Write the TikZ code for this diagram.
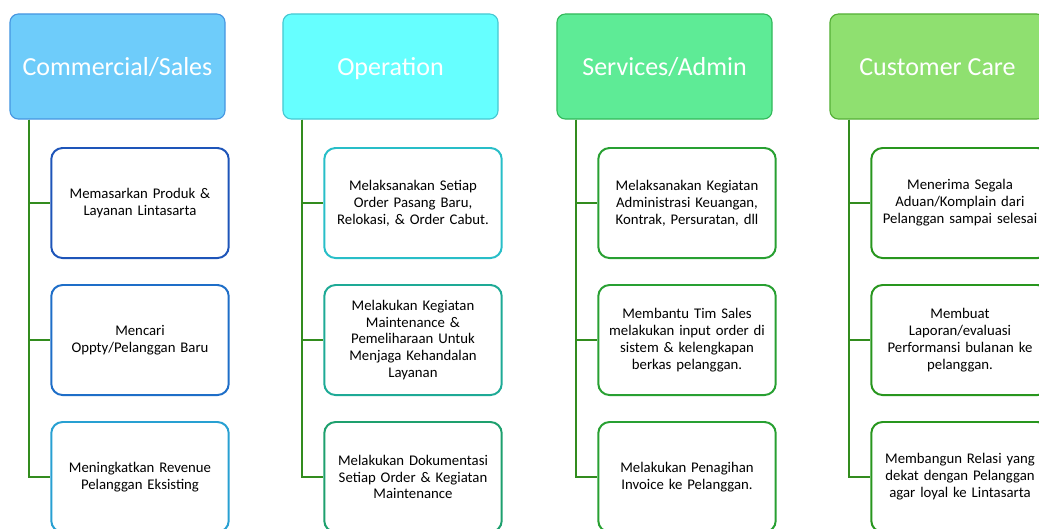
\documentclass[tikz,border=0pt]{standalone}
\usepackage{fontspec}
\setmainfont{Carlito}
\usepackage{tikz}
\usetikzlibrary{positioning}
\usetikzlibrary{calc}
\definecolor{salesFill}{RGB}{110,204,250}
\definecolor{salesLine}{RGB}{70,150,225}
\definecolor{opFill}{RGB}{102,255,255}
\definecolor{opLine}{RGB}{70,200,210}
\definecolor{admFill}{RGB}{94,235,150}
\definecolor{admLine}{RGB}{50,185,90}
\definecolor{careFill}{RGB}{143,224,112}
\definecolor{careLine}{RGB}{85,175,55}
\definecolor{salesA}{RGB}{30,85,185}
\definecolor{salesB}{RGB}{30,110,200}
\definecolor{salesC}{RGB}{40,160,210}
\definecolor{opA}{RGB}{40,190,200}
\definecolor{opB}{RGB}{30,170,150}
\definecolor{opC}{RGB}{30,160,110}
\definecolor{admBox}{RGB}{40,160,50}
\definecolor{careBox}{RGB}{40,150,30}
\definecolor{linkGreen}{RGB}{50,140,30}
\tikzset{myhead/.style={draw, line width=0.8pt, rounded corners=6pt, minimum width=5.375cm, minimum height=2.625cm, text=white, text height=1.45em, text depth=0.2em, font=\fontsize{18.5}{22}\selectfont}}
\tikzset{mytask/.style={draw, line width=1.4pt, fill=white, rounded corners=8pt, minimum width=4.4cm, minimum height=2.75cm, align=center, text width=4.2cm, font=\fontsize{10.5}{12}\selectfont}}
\tikzset{mylink/.style={draw=linkGreen, line width=1.4pt}}

\begin{document}
\begin{tikzpicture}[x=0.025cm, y=-0.025cm]

\useasboundingbox (0,0) rectangle (1039,528);

% headers
\node[myhead, fill=salesFill, draw=salesLine] (sales) at (117.5, 66.5) {Commercial/Sales};
\node[myhead, fill=opFill, draw=opLine] (oper) at (390.5, 66.5) {Operation};
\node[myhead, fill=admFill, draw=admLine] (admin) at (664.5, 66.5) {Services/Admin};
\node[myhead, fill=careFill, draw=careLine] (care) at (937.5, 66.5) {Customer Care};

% tasks
\node[mytask, draw=salesA] (s1) at (140, 203) {Memasarkan Produk \&\\ Layanan Lintasarta};
\node[mytask, draw=salesB] (s2) at (140, 340) {Mencari\\ Oppty/Pelanggan Baru};
\node[mytask, draw=salesC] (s3) at (140, 477) {Meningkatkan Revenue\\ Pelanggan Eksisting};

\node[mytask, draw=opA] (o1) at (413, 203) {Melaksanakan Setiap\\ Order Pasang Baru,\\ Relokasi, \& Order Cabut.};
\node[mytask, draw=opB] (o2) at (413, 340) {Melakukan Kegiatan\\ Maintenance \&\\ Pemeliharaan Untuk\\ Menjaga Kehandalan\\ Layanan};
\node[mytask, draw=opC] (o3) at (413, 477) {Melakukan Dokumentasi\\ Setiap Order \& Kegiatan\\ Maintenance};

\node[mytask, draw=admBox] (a1) at (687, 203) {Melaksanakan Kegiatan\\ Administrasi Keuangan,\\ Kontrak, Persuratan, dll};
\node[mytask, draw=admBox] (a2) at (687, 340) {Membantu Tim Sales\\ melakukan input order di\\ sistem \& kelengkapan\\ berkas pelanggan.};
\node[mytask, draw=admBox] (a3) at (687, 477) {Melakukan Penagihan\\ Invoice ke Pelanggan.};

\node[mytask, draw=careBox] (c1) at (960, 203) {Menerima Segala\\ Aduan/Komplain dari\\ Pelanggan sampai selesai};
\node[mytask, draw=careBox] (c2) at (960, 340) {Membuat\\ Laporan/evaluasi\\ Performansi bulanan ke\\ pelanggan.};
\node[mytask, draw=careBox] (c3) at (960, 477) {Membangun Relasi yang\\ dekat dengan Pelanggan\\ agar loyal ke Lintasarta};

% links
\draw[mylink] ($(sales.south west)+(20,0)$) |- (s1.west);
\draw[mylink] ($(sales.south west)+(20,0)$) |- (s2.west);
\draw[mylink] ($(sales.south west)+(20,0)$) |- (s3.west);

\draw[mylink] ($(oper.south west)+(20,0)$) |- (o1.west);
\draw[mylink] ($(oper.south west)+(20,0)$) |- (o2.west);
\draw[mylink] ($(oper.south west)+(20,0)$) |- (o3.west);

\draw[mylink] ($(admin.south west)+(20,0)$) |- (a1.west);
\draw[mylink] ($(admin.south west)+(20,0)$) |- (a2.west);
\draw[mylink] ($(admin.south west)+(20,0)$) |- (a3.west);

\draw[mylink] ($(care.south west)+(20,0)$) |- (c1.west);
\draw[mylink] ($(care.south west)+(20,0)$) |- (c2.west);
\draw[mylink] ($(care.south west)+(20,0)$) |- (c3.west);

\end{tikzpicture}
\end{document}
